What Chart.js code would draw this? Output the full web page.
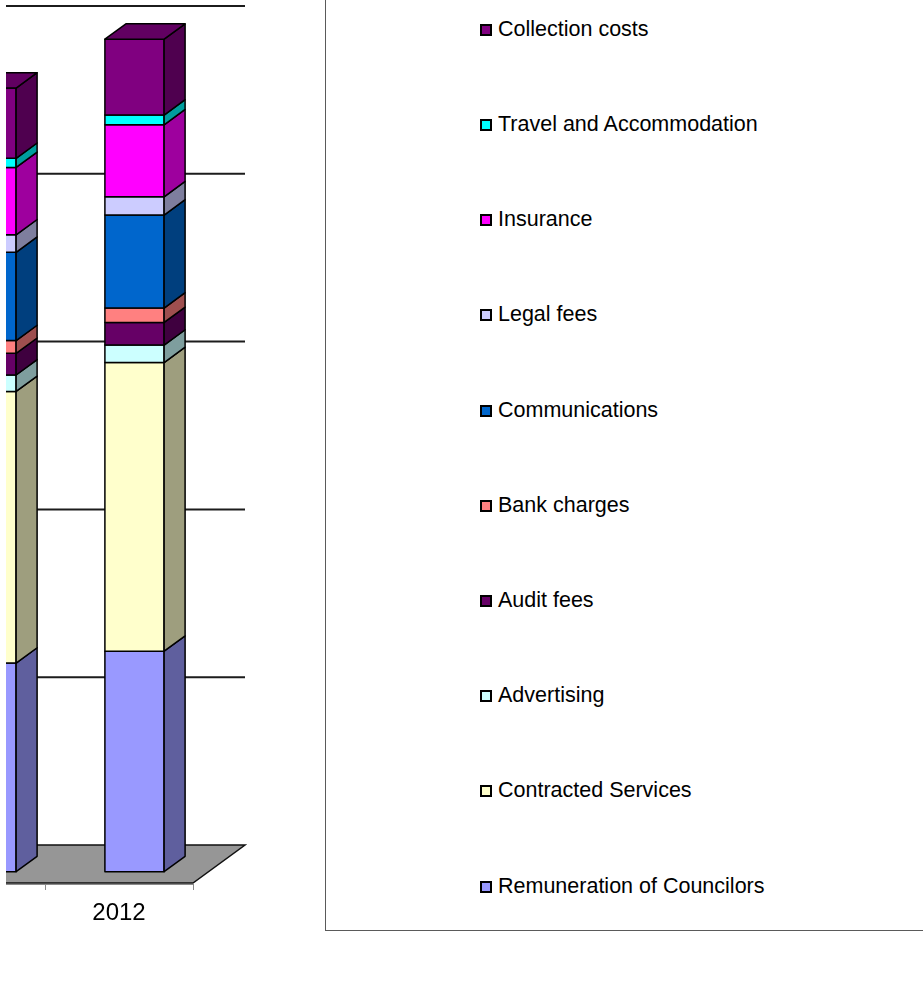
<!DOCTYPE html>
<html>
<head>
<meta charset="utf-8">
<title>Operating expenses by year</title>
<script src="https://cdn.jsdelivr.net/npm/chart.js@4.4.1/dist/chart.umd.min.js"></script>
<style>
  html, body { margin: 0; padding: 0; background: #fff; }
  body { width: 923px; height: 1001px; position: relative; overflow: hidden;
         font-family: "Liberation Sans", Arial, sans-serif; }
  #plotWrap { position: absolute; left: 6px; top: 0; width: 319px; height: 1001px; overflow: hidden; }
  #plot { position: absolute; left: -306px; top: 0; }
  #legend { position: absolute; left: 325px; top: -5px; width: 700px; height: 936px;
            box-sizing: border-box; border: 1px solid #5a5a5a; background: #fff; }
  .item { position: absolute; left: 0; height: 24px; line-height: 24px; font-size: 21.5px;
          color: #000; white-space: nowrap; }
  .swatch { position: absolute; width: 12px; height: 12px; box-sizing: border-box;
            border: 2px solid #000; }
</style>
</head>
<body>
<div id="plotWrap"><canvas id="plot" width="600" height="1001"></canvas></div>
<div id="legend"></div>
<script>
// Financial years on the category axis
const years = ['2011', '2012'];

// Expense categories, bottom of the stack first
const seriesNames = [
  'Remuneration of Councilors',
  'Contracted Services',
  'Advertising',
  'Audit fees',
  'Bank charges',
  'Communications',
  'Legal fees',
  'Insurance',
  'Travel and Accommodation',
  'Collection costs'
];

// Values per category, one entry per year
const remuneration   = [124.3, 131.4];
const contracted     = [161.9, 172.0];
const advertising    = [9.8, 10.4];
const auditFees      = [12.9, 13.5];
const bankCharges    = [7.6, 8.6];
const communications = [52.6, 55.4];
const legalFees      = [10.4, 10.9];
const insurance      = [40.2, 42.9];
const travel         = [5.4, 5.8];
const collection     = [41.9, 45.2];

const seriesValues = [remuneration, contracted, advertising, auditFees, bankCharges,
                      communications, legalFees, insurance, travel, collection];

// Front-face colours of each series
const seriesColors = ['#9999FF', '#FFFFCC', '#CCFFFF', '#660066', '#FF8080',
                      '#0066CC', '#CCCCFF', '#FF00FF', '#00FFFF', '#800080'];

// Value axis
const yMax = 500;
const yStep = 100;

// Oblique projection of the 3D box
const FLOOR_DX = 52, FLOOR_DY = 38;     // depth of floor / walls
const BAR_OX = 15.5, BAR_OY = 11.33;    // offset of bar front from the front plane
const BAR_DX = 21, BAR_DY = 15.35;      // depth of each bar

function shade(hex, f) {
  const n = parseInt(hex.slice(1), 16);
  const r = Math.round(((n >> 16) & 255) * f);
  const g = Math.round(((n >> 8) & 255) * f);
  const b = Math.round((n & 255) * f);
  return `rgb(${r},${g},${b})`;
}

function poly(ctx, pts, fill, stroke, lw) {
  ctx.beginPath();
  ctx.moveTo(pts[0][0], pts[0][1]);
  for (let i = 1; i < pts.length; i++) ctx.lineTo(pts[i][0], pts[i][1]);
  ctx.closePath();
  if (fill) { ctx.fillStyle = fill; ctx.fill(); }
  if (stroke) { ctx.strokeStyle = stroke; ctx.lineWidth = lw; ctx.stroke(); }
}

const depth3d = {
  id: 'depth3d',
  beforeDatasetsDraw(chart) {
    const { ctx, chartArea: a, scales: { x, y } } = chart;
    ctx.save();
    const bottom = y.getPixelForValue(0);
    // floor
    poly(ctx, [[a.left, bottom], [a.right, bottom],
               [a.right + FLOOR_DX, bottom - FLOOR_DY], [a.left + FLOOR_DX, bottom - FLOOR_DY]],
         '#969696', '#111', 1.5);
    // category axis line and tick marks below the floor
    ctx.strokeStyle = '#8a8a8a';
    ctx.lineWidth = 1;
    ctx.beginPath();
    ctx.moveTo(a.left, bottom + 1.5);
    ctx.lineTo(a.right, bottom + 1.5);
    const n = years.length;
    for (let i = 0; i <= n; i++) {
      const px = Math.round(a.left + (a.right - a.left) * i / n) + 0.5;
      ctx.moveTo(px, bottom + 1);
      ctx.lineTo(px, bottom + 7);
    }
    ctx.stroke();
    // gridlines on the back wall and the side wall
    ctx.strokeStyle = '#1c1c1c';
    ctx.lineWidth = 2;
    ctx.beginPath();
    for (let v = yStep; v <= yMax; v += yStep) {
      const py = y.getPixelForValue(v);
      ctx.moveTo(a.left, py);
      ctx.lineTo(a.left + FLOOR_DX, py - FLOOR_DY);
      ctx.lineTo(a.right + FLOOR_DX, py - FLOOR_DY);
    }
    ctx.stroke();
    ctx.restore();
  },
  beforeDatasetDraw() { return false; },
  afterDatasetsDraw(chart) {
    const { ctx } = chart;
    ctx.save();
    ctx.lineJoin = 'round';
    const metas = chart.getSortedVisibleDatasetMetas();
    for (let i = 0; i < years.length; i++) {
      let topIdx = -1;
      metas.forEach((m, k) => { if (seriesValues[m.index][i] > 0) topIdx = k; });
      metas.forEach((m, k) => {
        const el = m.data[i];
        const c = seriesColors[m.index];
        const x0 = el.x - el.width / 2 + BAR_OX;
        const x1 = x0 + el.width;
        const yt = el.y - BAR_OY;
        const yb = el.base - BAR_OY;
        poly(ctx, [[x0, yt], [x1, yt], [x1, yb], [x0, yb]], c, '#000', 1.5);
        poly(ctx, [[x1, yt], [x1 + BAR_DX, yt - BAR_DY], [x1 + BAR_DX, yb - BAR_DY], [x1, yb]],
             shade(c, 0.62), '#000', 1.5);
        if (k === topIdx) {
          poly(ctx, [[x0, yt], [x1, yt], [x1 + BAR_DX, yt - BAR_DY], [x0 + BAR_DX, yt - BAR_DY]],
               shade(c, 0.76), '#000', 1.5);
        }
      });
    }
    ctx.restore();
  },
  afterDraw(chart) {
    const { ctx, scales: { x, y } } = chart;
    ctx.save();
    ctx.fillStyle = '#000';
    ctx.font = '24px "Liberation Sans", Arial, sans-serif';
    ctx.textAlign = 'center';
    ctx.textBaseline = 'alphabetic';
    const base = y.getPixelForValue(0);
    years.forEach((yr, i) => {
      ctx.fillText(yr, x.getPixelForValue(i), base + 37);
    });
    ctx.restore();
  }
};

const chart = new Chart(document.getElementById('plot'), {
  type: 'bar',
  data: {
    labels: years,
    datasets: seriesNames.map((name, k) => ({
      label: name,
      data: seriesValues[k],
      backgroundColor: seriesColors[k],
      borderColor: '#000',
      borderWidth: 1.5,
      barPercentage: 0.4,
      categoryPercentage: 1.0
    }))
  },
  options: {
    responsive: false,
    animation: false,
    devicePixelRatio: 1,
    layout: { padding: { left: 197, right: 107, top: 44, bottom: 118 } },
    plugins: { legend: { display: false }, tooltip: { enabled: false } },
    scales: {
      x: { stacked: true, display: false },
      y: { stacked: true, display: false, min: 0, max: yMax, ticks: { stepSize: yStep } }
    }
  },
  plugins: [depth3d]
});

// Legend: top item is the last series in the stack
const legend = document.getElementById('legend');
const firstY = 28.8, gapY = 95.2;
seriesNames.slice().reverse().forEach((name, j) => {
  const k = seriesNames.length - 1 - j;
  const cy = firstY + gapY * j;
  const sw = document.createElement('div');
  sw.className = 'swatch';
  sw.style.left = (480 - 326) + 'px';
  sw.style.top = (cy - 5 + 5 - 1) + 'px';
  sw.style.background = seriesColors[k];
  legend.appendChild(sw);
  const it = document.createElement('div');
  it.className = 'item';
  it.style.left = (498 - 326) + 'px';
  it.style.top = (cy - 12 + 5 - 1) + 'px';
  it.textContent = name;
  legend.appendChild(it);
});
</script>
</body>
</html>
